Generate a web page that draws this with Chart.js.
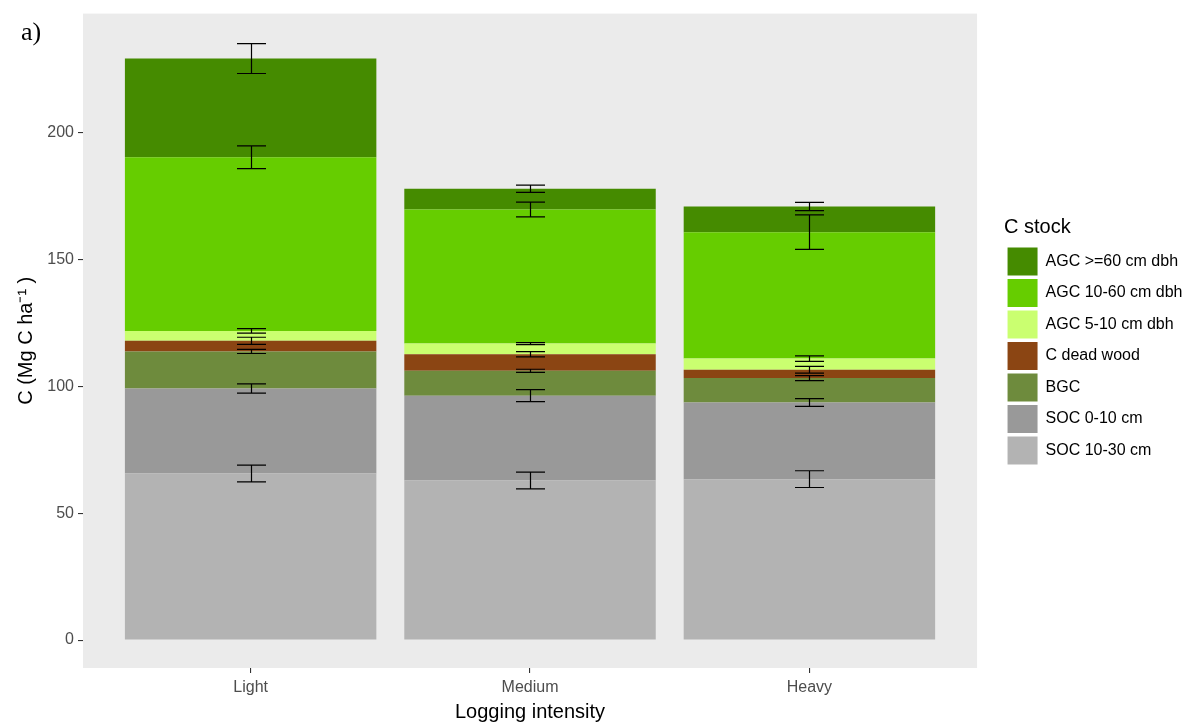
<!DOCTYPE html>
<html>
<head>
<meta charset="utf-8">
<script src="https://cdn.jsdelivr.net/npm/chart.js@4.4.1/dist/chart.umd.min.js"></script>
<style>
  html, body { margin: 0; padding: 0; background: #fff; }
</style>
</head>
<body>
<canvas id="stockChart" width="1197" height="722"></canvas>
<script>
const categories = ['Light', 'Medium', 'Heavy'];
const yTicks = [0, 50, 100, 150, 200];

// stock components, bottom of the stack first
const stockNames = ['SOC 10-30 cm', 'SOC 0-10 cm', 'BGC', 'C dead wood', 'AGC 5-10 cm dbh', 'AGC 10-60 cm dbh', 'AGC >=60 cm dbh'];
const stockColors = ['#B3B3B3', '#999999', '#6E8B3D', '#8B4513', '#CAFF70', '#66CD00', '#458B00'];

const soc1030 = [65.6, 62.9, 63.4];
const soc010 = [33.5, 33.4, 30.2];
const bgc = [14.6, 9.8, 9.6];
const deadWood = [4.2, 6.5, 3.3];
const agc510 = [3.9, 4.2, 4.4];
const agc1060 = [68.4, 52.8, 49.8];
const agc60 = [38.9, 8.2, 10.1];

// +/- error drawn at the top of each segment
const soc1030Err = [3.3, 3.3, 3.3];
const soc010Err = [1.8, 2.4, 1.5];
const bgcErr = [0.8, 0.6, 1.0];
const deadWoodErr = [1.4, 1.0, 1.3];
const agc510Err = [0.9, 0.4, 1.1];
const agc1060Err = [4.5, 2.9, 6.8];
const agc60Err = [5.9, 1.4, 1.6];

const stockValues = [soc1030, soc010, bgc, deadWood, agc510, agc1060, agc60];
const stockErrors = [soc1030Err, soc010Err, bgcErr, deadWoodErr, agc510Err, agc1060Err, agc60Err];

const FONT = '"Liberation Sans", Arial, sans-serif';

const panelBg = {
    id: 'panelBg',
    beforeDraw(chart) {
        const {ctx, chartArea} = chart;
        ctx.save();
        ctx.fillStyle = '#ffffff';
        ctx.fillRect(0, 0, chart.width, chart.height);
        ctx.fillStyle = '#EBEBEB';
        ctx.fillRect(chartArea.left, chartArea.top, chartArea.right - chartArea.left, chartArea.bottom - chartArea.top);
        ctx.restore();
    },
    afterDraw(chart) {
        const ctx = chart.ctx;
        ctx.save();
        ctx.fillStyle = '#000';
        ctx.font = '26px "Liberation Serif", "Times New Roman", serif';
        ctx.textBaseline = 'alphabetic';
        ctx.fillText('a)', 21, 40);
        ctx.restore();
    }
};

// push the legend a bit away from the panel, like ggplot does
const legendGap = {
    id: 'legendGap',
    afterLayout(chart) {
        const lg = chart.legend;
        const w = lg.width;
        lg.left = chart.chartArea.right + 27;
        lg.right = lg.left + w;
        lg.top += 2;
        lg.bottom += 2;
    }
};

const errorBars = {
    id: 'errorBars',
    afterDatasetsDraw(chart) {
        const ctx = chart.ctx;
        const yScale = chart.scales.y;
        const capHalf = 14.5;
        ctx.save();
        ctx.strokeStyle = '#000';
        ctx.lineWidth = 1.2;
        for (let j = 0; j < categories.length; j++) {
            let top = 0;
            for (let i = 0; i < stockValues.length; i++) {
                top += stockValues[i][j];
                const err = stockErrors[i][j];
                const bar = chart.getDatasetMeta(i).data[j];
                const x = Math.round(bar.x) + 0.5;
                const yHi = yScale.getPixelForValue(top + err);
                const yLo = yScale.getPixelForValue(top - err);
                ctx.beginPath();
                ctx.moveTo(x, yHi);
                ctx.lineTo(x, yLo);
                ctx.moveTo(x - capHalf, yHi);
                ctx.lineTo(x + capHalf, yHi);
                ctx.moveTo(x - capHalf, yLo);
                ctx.lineTo(x + capHalf, yLo);
                ctx.stroke();
            }
        }
        ctx.restore();
    }
};

const datasets = stockNames.map((name, i) => ({
    label: name,
    data: stockValues[i].map((v, j) => ({x: j + 1, y: v})),
    backgroundColor: stockColors[i],
    borderWidth: 0,
    barPercentage: 0.9,
    categoryPercentage: 1.0
}));

const stockChart = new Chart(document.getElementById('stockChart'), {
    type: 'bar',
    data: { datasets: datasets },
    plugins: [panelBg, legendGap, errorBars],
    options: {
        responsive: false,
        animation: false,
        devicePixelRatio: 1,
        layout: { padding: { top: 12, right: 31.5, bottom: 0, left: 0 } },
        plugins: {
            tooltip: { enabled: false },
            legend: {
                position: 'right',
                fullSize: false,
                reverse: true,
                align: 'center',
                title: {
                    display: true,
                    text: 'C stock',
                    position: 'start',
                    color: '#000',
                    font: { family: FONT, size: 20 },
                    padding: { top: 0, bottom: 2.2 }
                },
                labels: {
                    boxWidth: 30,
                    boxHeight: 28,
                    padding: 3.5,
                    color: '#000',
                    font: { family: FONT, size: 16 }
                }
            }
        },
        scales: {
            x: {
                type: 'linear',
                stacked: true,
                offset: false,
                min: 0.4,
                max: 3.6,
                afterFit(scale) { scale.height = 54; },
                afterBuildTicks(scale) {
                    scale.ticks = categories.map((c, i) => ({ value: i + 1 }));
                },
                grid: { display: true, offset: false, drawOnChartArea: false, drawTicks: true, tickLength: 5, color: '#333333', lineWidth: 1.1 },
                border: { display: false },
                ticks: {
                    color: '#4D4D4D',
                    font: { family: FONT, size: 16 },
                    padding: 5,
                    maxRotation: 0,
                    callback: (v) => categories[v - 1]
                },
                title: {
                    display: true,
                    text: 'Logging intensity',
                    color: '#000',
                    font: { family: FONT, size: 20 },
                    padding: { top: 0, bottom: -2 }
                }
            },
            y: {
                stacked: true,
                min: -11,
                max: 246.8,
                afterFit(scale) { scale.width = 83; },
                afterBuildTicks(scale) {
                    scale.ticks = yTicks.map(v => ({ value: v }));
                },
                grid: { display: true, drawOnChartArea: false, drawTicks: true, tickLength: 5, color: '#333333', lineWidth: 1.1 },
                border: { display: false },
                ticks: {
                    color: '#4D4D4D',
                    font: { family: FONT, size: 16 },
                    padding: 4
                },
                title: {
                    display: true,
                    text: 'C (Mg C ha\u207B\u00B9 )',
                    color: '#000',
                    font: { family: FONT, size: 20 },
                    padding: { top: 14, bottom: 0 }
                }
            }
        }
    }
});
</script>
</body>
</html>
